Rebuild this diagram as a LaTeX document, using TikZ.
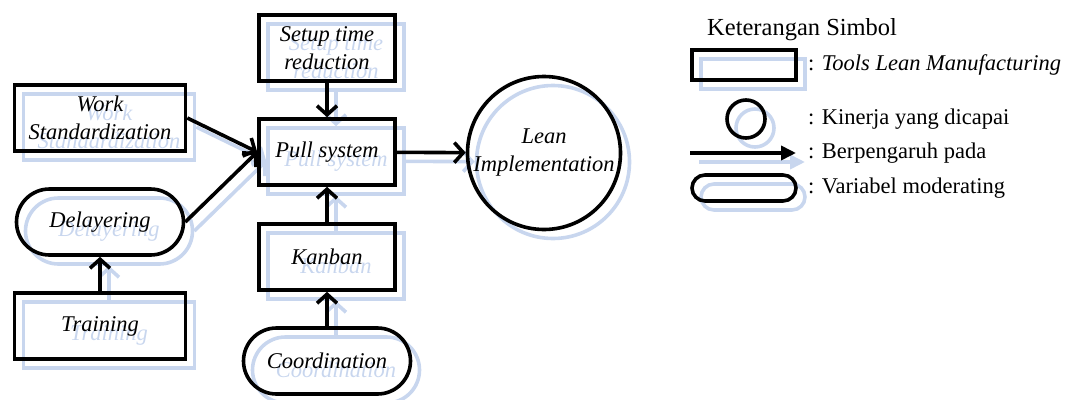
\documentclass[tikz,border=0pt]{standalone}
\usepackage{fontspec}
\setmainfont{Liberation Serif}
\usetikzlibrary{arrows.meta,shapes.misc}
\definecolor{lkshade}{HTML}{C8D6EE}
\colorlet{lkpen}{black}
\tikzset{
  lk text/.style={font=\fontsize{22.5}{28}\selectfont},
  lk tool/.style={rectangle, draw=lkpen, text=lkpen, line width=3.6pt,
    minimum width=136, minimum height=66, align=center, inner sep=2pt,
    font=\fontsize{22.5}{28}\selectfont\itshape},
  lk wide/.style={lk tool, minimum width=171},
  lk moder/.style={lk tool, rounded rectangle, minimum width=171},
  lk goal/.style={circle, draw=lkpen, text=lkpen, line width=3.6pt,
    minimum size=153, align=center, inner sep=0pt,
    font=\fontsize{22.5}{28}\selectfont\itshape},
  lk arrow/.style={-{Straight Barb[length=9pt,width=20pt]}, draw=lkpen,
    line width=3.6pt},
  lk key/.style={draw=lkpen, line width=3.6pt, inner sep=0pt},
  lk label/.style={lk text, anchor=west, inner sep=0pt}
}
\newcommand\lkgoaltext{Lean\\Implementation}
% model and key symbols, drawn twice (pale copy underneath)
\newcommand\lkmodel{%
  \node[lk tool] (setup) at (327,48) {Setup time\\reduction};
  \node[lk wide] (work) at (100,118) {Work\\Standardization};
  \node[lk tool] (pull) at (327,152) {Pull system};
  \node[lk moder] (delay) at (100,222) {Delayering};
  \node[lk wide] (train) at (100,326) {Training};
  \node[lk tool] (kanban) at (327,257) {Kanban};
  \node[lk moder] (coord) at (327,361) {Coordination};
  \node[lk goal] (lean) at (544,153) {\lkgoaltext};
  \draw[lk arrow] (setup) -- (pull);
  \draw[lk arrow] (work.east) -- (pull.west);
  \draw[lk arrow] (delay.east) -- (pull.west);
  \draw[lk arrow] (train) -- (delay);
  \draw[lk arrow] (kanban) -- (pull);
  \draw[lk arrow] (coord) -- (kanban);
  \draw[lk arrow] (pull) -- (lean);
  % key
  \node[lk key, rectangle, minimum width=104, minimum height=30] (keyrect) at (744,65) {};
  \node[lk key, circle, minimum size=38] (keycirc) at (746,119) {};
  \coordinate (keyA) at (690,153);
  \coordinate (keyB) at (796,153);
  \draw[-{Triangle[length=15pt,width=14pt]}, draw=lkpen, fill=lkpen, line width=3.6pt] (keyA) -- (keyB);
  \node[lk key, rounded rectangle, minimum width=104, minimum height=26] (keypill) at (744,188) {};
}

\begin{document}
\begin{tikzpicture}[x=1pt, y=-1pt]
  \useasboundingbox (0,0) rectangle (1073,399);
  \begin{scope}[shift={(9,9)}, name prefix=sh-]
    \colorlet{lkpen}{lkshade}
    \renewcommand\lkgoaltext{}
    \lkmodel
  \end{scope}
  \lkmodel
  \node[lk label, font=\fontsize{24.5}{30}\selectfont] (keytitle) at (707,30) {Keterangan Simbol};
  \node[lk label] (keytool) at (808,65) {: \textit{Tools Lean Manufacturing}};
  \node[lk label] (keygoal) at (808,119) {: Kinerja yang dicapai};
  \node[lk label] (keyarrow) at (808,153) {: Berpengaruh pada};
  \node[lk label] (keymoder) at (808,188) {: Variabel moderating};
\end{tikzpicture}
\end{document}
